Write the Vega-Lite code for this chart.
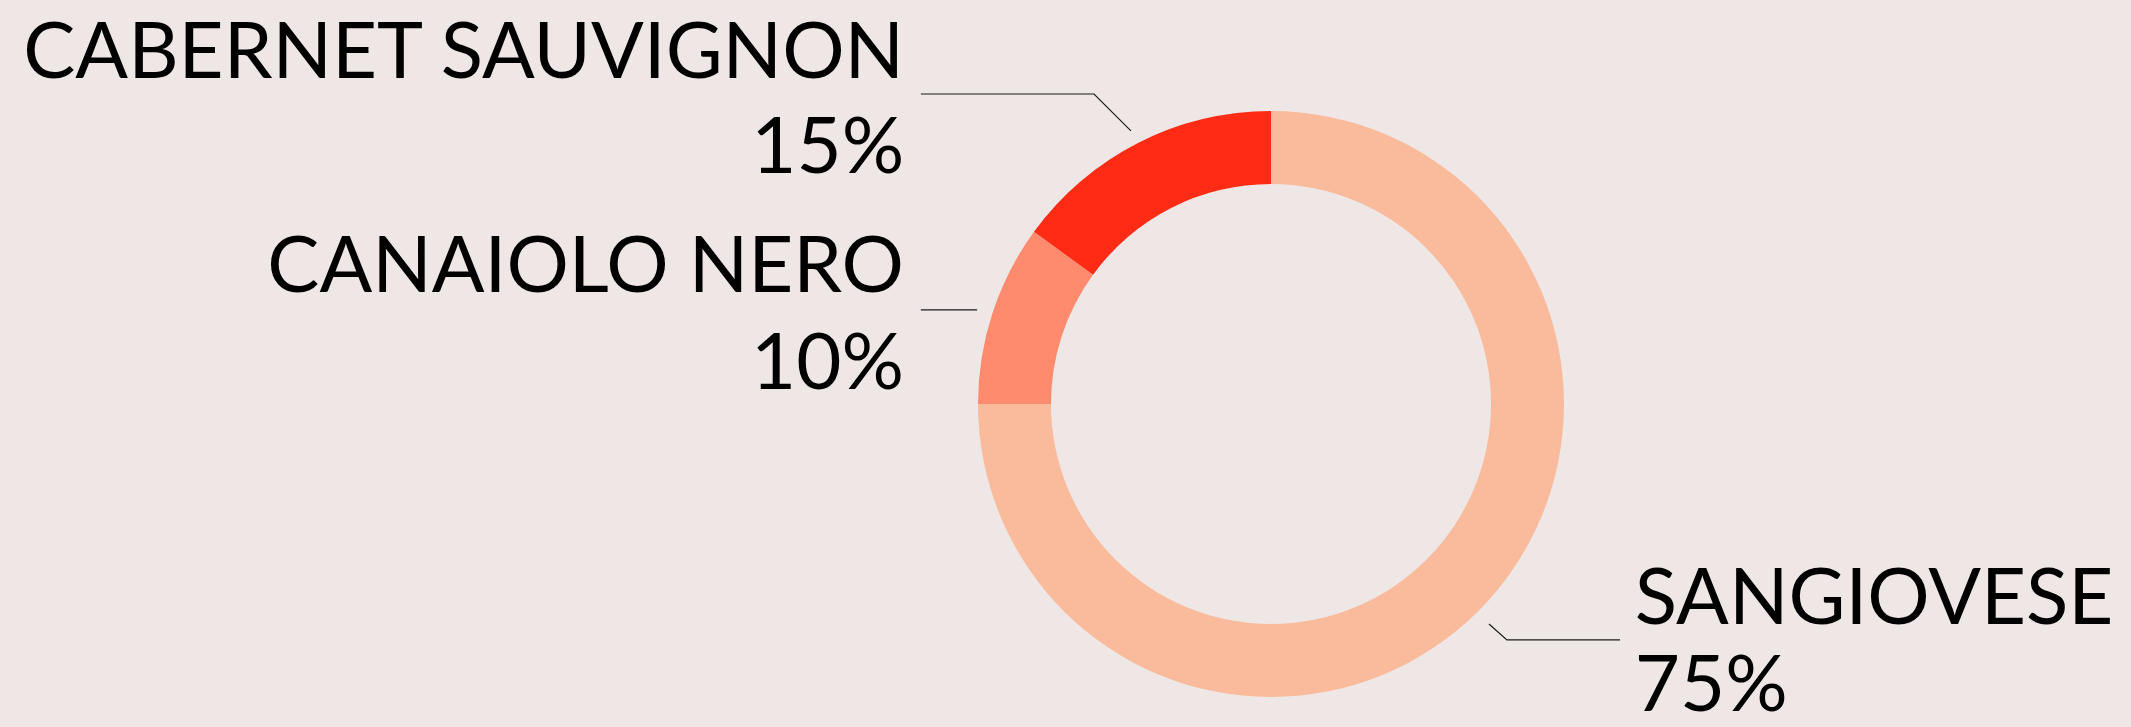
{
  "$schema": "https://vega.github.io/schema/vega-lite/v6.json",
  "autosize": {"type": "none"},
  "width": 1720,
  "height": 646,
  "padding": {"left": 411, "top": 81, "right": 0, "bottom": 0},
  "background": "#EFE7E5",
  "config": {"view": {"stroke": null}, "text": {"font": "Lato", "fontSize": 78, "color": "#000000", "baseline": "alphabetic"}},
  "data": {"name": "shares"},
  "datasets": {
    "shares": [
      {"grape": "SANGIOVESE", "share": 0.75},
      {"grape": "CANAIOLO NERO", "share": 0.10},
      {"grape": "CABERNET SAUVIGNON", "share": 0.15}
    ],
    "leaders": [
      {"grape": "CABERNET SAUVIGNON", "step": 1, "lx": -0.478, "ly": 0.932},
      {"grape": "CABERNET SAUVIGNON", "step": 2, "lx": -0.604, "ly": 1.058},
      {"grape": "CABERNET SAUVIGNON", "step": 3, "lx": -1.195, "ly": 1.058},
      {"grape": "CANAIOLO NERO", "step": 1, "lx": -1.003, "ly": 0.321},
      {"grape": "CANAIOLO NERO", "step": 2, "lx": -1.195, "ly": 0.321},
      {"grape": "SANGIOVESE", "step": 1, "lx": 0.744, "ly": -0.751},
      {"grape": "SANGIOVESE", "step": 2, "lx": 0.805, "ly": -0.805},
      {"grape": "SANGIOVESE", "step": 3, "lx": 1.191, "ly": -0.805}
    ]
  },
  "layer": [
    {
      "mark": {"type": "arc", "radius": 293, "innerRadius": 220},
      "encoding": {
        "theta": {"field": "share", "type": "quantitative", "stack": true},
        "order": {"field": "grape", "sort": "descending"},
        "color": {"field": "grape", "type": "nominal", "legend": null,
          "scale": {"domain": ["SANGIOVESE", "CANAIOLO NERO", "CABERNET SAUVIGNON"], "range": ["#F9BB9B", "#FF8B6E", "#FF2B14"]}}
      }
    },
    {
      "data": {"name": "leaders"},
      "mark": {"type": "line", "stroke": "#1a1a1a", "strokeWidth": 1.2},
      "encoding": {
        "x": {"field": "lx", "type": "quantitative", "axis": null, "scale": {"domain": [-2.935, 2.935], "nice": false, "zero": false}},
        "y": {"field": "ly", "type": "quantitative", "axis": null, "scale": {"domain": [-1.1024, 1.1024], "nice": false, "zero": false}},
        "detail": {"field": "grape"},
        "order": {"field": "step"}
      }
    },
    {
      "mark": {"type": "text", "radius": 308, "align": "right", "dx": -227, "dy": -52},
      "encoding": {
        "theta": {"field": "share", "type": "quantitative", "stack": true},
        "order": {"field": "grape", "sort": "descending"},
        "detail": {"field": "grape"},
        "text": {"condition": {"test": "datum.grape === 'CABERNET SAUVIGNON'", "field": "grape", "type": "nominal"}, "value": ""}
      }
    },
    {
      "mark": {"type": "text", "radius": 308, "align": "right", "dx": -227, "dy": 43},
      "encoding": {
        "theta": {"field": "share", "type": "quantitative", "stack": true},
        "order": {"field": "grape", "sort": "descending"},
        "detail": {"field": "grape"},
        "text": {"condition": {"test": "datum.grape === 'CABERNET SAUVIGNON'", "field": "share", "type": "quantitative", "format": ".0%"}, "value": ""}
      }
    },
    {
      "mark": {"type": "text", "radius": 308, "align": "right", "dx": -74, "dy": -17},
      "encoding": {
        "theta": {"field": "share", "type": "quantitative", "stack": true},
        "order": {"field": "grape", "sort": "descending"},
        "detail": {"field": "grape"},
        "text": {"condition": {"test": "datum.grape === 'CANAIOLO NERO'", "field": "grape", "type": "nominal"}, "value": ""}
      }
    },
    {
      "mark": {"type": "text", "radius": 308, "align": "right", "dx": -74, "dy": 80},
      "encoding": {
        "theta": {"field": "share", "type": "quantitative", "stack": true},
        "order": {"field": "grape", "sort": "descending"},
        "detail": {"field": "grape"},
        "text": {"condition": {"test": "datum.grape === 'CANAIOLO NERO'", "field": "share", "type": "quantitative", "format": ".0%"}, "value": ""}
      }
    },
    {
      "mark": {"type": "text", "radius": 308, "align": "left", "dx": 146, "dy": 2},
      "encoding": {
        "theta": {"field": "share", "type": "quantitative", "stack": true},
        "order": {"field": "grape", "sort": "descending"},
        "detail": {"field": "grape"},
        "text": {"condition": {"test": "datum.grape === 'SANGIOVESE'", "field": "grape", "type": "nominal"}, "value": ""}
      }
    },
    {
      "mark": {"type": "text", "radius": 308, "align": "left", "dx": 146, "dy": 89},
      "encoding": {
        "theta": {"field": "share", "type": "quantitative", "stack": true},
        "order": {"field": "grape", "sort": "descending"},
        "detail": {"field": "grape"},
        "text": {"condition": {"test": "datum.grape === 'SANGIOVESE'", "field": "share", "type": "quantitative", "format": ".0%"}, "value": ""}
      }
    }
  ]
}
